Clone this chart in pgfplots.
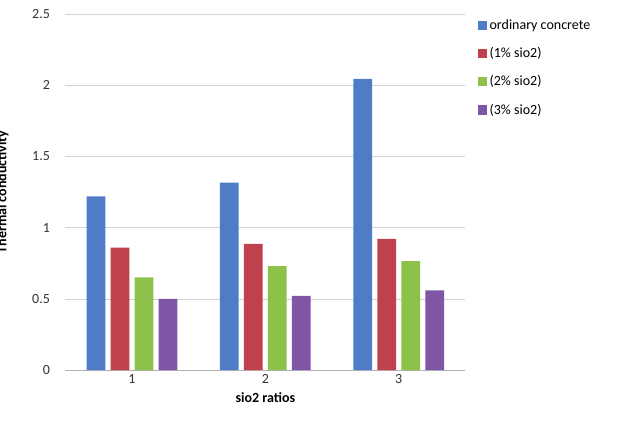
\documentclass[border=0pt]{standalone}
\usepackage{pgfplots}
\pgfplotsset{compat=1.18}
\usepackage{fontspec}
\setmainfont{Carlito}
\definecolor{cb}{HTML}{4F7CC6}
\definecolor{cr}{HTML}{C0404D}
\definecolor{cg}{HTML}{8DC14A}
\definecolor{cp}{HTML}{7F56A6}
\begin{document}
\begin{tikzpicture}
\path[use as bounding box] (-49pt,-45pt) rectangle (431pt,277.5pt);
\begin{axis}[
  at={(0,0)}, anchor=south west,
  scale only axis, width=300pt, height=267pt,
  ybar=4pt, bar width=14pt,
  xmin=0.5, xmax=3.5, ymin=0, ymax=2.5,
  xtick={1,2,3}, ytick={0,0.5,...,2.5},
  yticklabels={0,0.5,1,1.5,2,2.5},
  /pgf/number format/assume math mode=true,
  ymajorgrids, grid style={gray!35},
  axis x line*=bottom, axis y line*=left,
  x axis line style={gray!60}, y axis line style={draw=none},
  major tick length=0pt,
  tick label style={font=\fontsize{10.5}{12}\selectfont, text=black!80},
  yticklabel style={xshift=-8pt},
  xlabel={\textbf{sio2 ratios}}, ylabel={\textbf{Thermal conductivity}},
  label style={font=\fontsize{10.5}{12}\selectfont},
  ylabel style={at={(axis description cs:-0.13,0.5)}},
  legend style={at={(1.02,1.0)}, anchor=north west, draw=none, font=\fontsize{10.5}{12}\selectfont, row sep=8pt},
  legend cell align=left,
  legend image code/.code={\fill[#1] (0pt,-3.5pt) rectangle (7pt,3.5pt);},
]
\addplot[fill=cb, draw=none] coordinates {(1,1.22) (2,1.315) (3,2.045)};
\addplot[fill=cr, draw=none] coordinates {(1,0.86) (2,0.885) (3,0.92)};
\addplot[fill=cg, draw=none] coordinates {(1,0.65) (2,0.73) (3,0.765)};
\addplot[fill=cp, draw=none] coordinates {(1,0.50) (2,0.52) (3,0.56)};
\legend{ordinary concrete,(1\% sio2),(2\% sio2),(3\% sio2)}
\end{axis}
\end{tikzpicture}
\end{document}
